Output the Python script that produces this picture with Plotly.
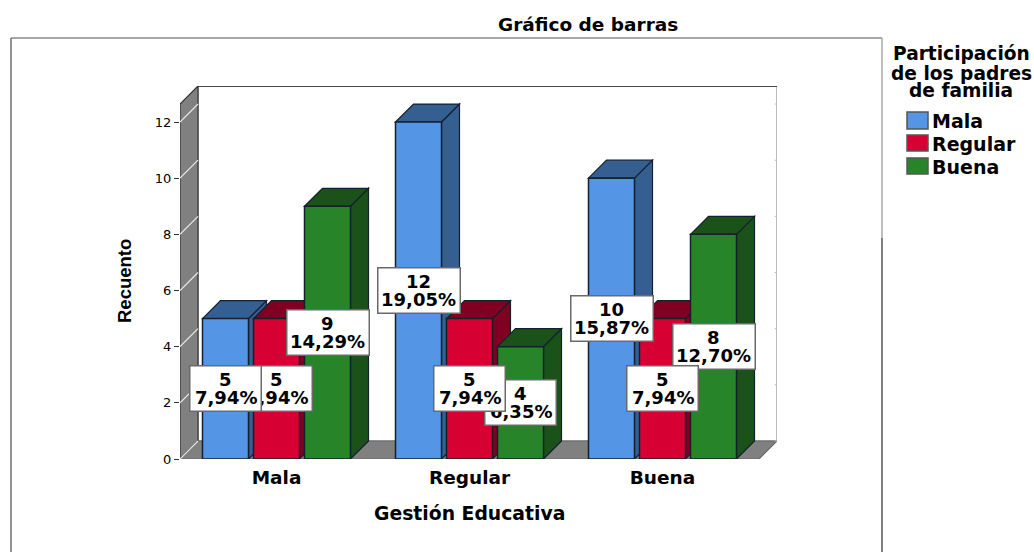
"""
3D style grouped bar chart (SPSS look) built from bars and depth shapes
"""

import plotly.graph_objects as go

WIDTH = 1034
HEIGHT = 552

categories = ["Mala", "Regular", "Buena"]
series_names = ["Mala", "Regular", "Buena"]
mala_counts = [5, 12, 10]
regular_counts = [5, 5, 5]
buena_counts = [9, 4, 8]
mala_pct = ["7,94%", "19,05%", "15,87%"]
regular_pct = ["7,94%", "7,94%", "7,94%"]
buena_pct = ["14,29%", "6,35%", "12,70%"]
y_ticks = [0, 2, 4, 6, 8, 10, 12]

counts = [mala_counts, regular_counts, buena_counts]
pcts = [mala_pct, regular_pct, buena_pct]
front_colors = ["#5595E6", "#D70033", "#288428"]
side_colors = ["#355F91", "#7F0020", "#1A521A"]
line_color = "#14202E"
wall_color = "#808080"

# pixel geometry of the plot box
left_px, right_px, top_px, bottom_px = 180, 777, 86, 459
group_px = 193
unit_px = 28.08
depth_px = 18
bar_px = 46
step_px = 51

depth_x = depth_px / group_px
depth_y = depth_px / unit_px
bar_w = bar_px / group_px
step = step_px / group_px
x_min = -0.5
x_max = 2.5 + depth_x
y_max = (bottom_px - top_px) / unit_px

main_font = "DejaVu Sans"
narrow_font = "Liberation Sans"


def poly(points, fill, line=line_color, width=1.2):
    path = "M " + " L ".join(f"{x:.4f},{y:.4f}" for x, y in points) + " Z"
    return dict(type="path", path=path, xref="x", yref="y", layer="below",
                fillcolor=fill, line=dict(color=line, width=width))


def px_line(x0, y0, x1, y1, color, width=1.5):
    return dict(type="line", xref="paper", yref="paper",
                x0=x0 / WIDTH, x1=x1 / WIDTH,
                y0=1 - y0 / HEIGHT, y1=1 - y1 / HEIGHT,
                line=dict(color=color, width=width))


def px_text(x, y, text, size=18, xanchor="center", family=main_font, angle=0):
    return dict(x=x / WIDTH, y=1 - y / HEIGHT, xref="paper", yref="paper",
                text=f"<b>{text}</b>", showarrow=False, xanchor=xanchor,
                yanchor="middle", textangle=angle,
                font=dict(family=family, size=size, color="#000"))


fig = go.Figure()
for name, vals, col in zip(series_names, counts, front_colors):
    fig.add_trace(go.Bar(x=categories, y=vals, name=name, marker=dict(
        color=col, line=dict(color=line_color, width=1.5))))

shapes = []

# back wall, left wall and floor
shapes.append(dict(type="rect", xref="x", yref="y", layer="below",
                   x0=x_min + depth_x, x1=x_max, y0=depth_y, y1=y_max,
                   fillcolor="white", line=dict(color="#BDBDBD", width=2)))
shapes.append(dict(type="line", xref="x", yref="y", layer="below",
                   x0=x_min + depth_x, x1=x_max, y0=y_max, y1=y_max,
                   line=dict(color="#222", width=1.5)))
shapes.append(poly([(x_min, 0), (x_min, y_max - depth_y),
                    (x_min + depth_x, y_max), (x_min + depth_x, depth_y)],
                   wall_color, "#333"))
shapes.append(poly([(x_min, 0), (x_min + depth_x, depth_y),
                    (x_max, depth_y), (x_max - depth_x, 0)],
                   wall_color, "#666"))
for t in y_ticks:
    shapes.append(dict(type="line", xref="x", yref="y", layer="below",
                       x0=x_min, x1=x_min + depth_x, y0=t, y1=t + depth_y,
                       line=dict(color="#E8E8E8", width=1.2)))
    shapes.append(dict(type="line", xref="x", yref="y", layer="below",
                       x0=x_max - 0.012, x1=x_max, y0=t + depth_y, y1=t + depth_y,
                       line=dict(color="#BDBDBD", width=1)))

# top and side faces, painted left to right so later bars hide earlier ones
for g in range(len(categories)):
    for s in range(len(series_names)):
        v = counts[s][g]
        x0 = g + (s - 1) * step - bar_w / 2
        x1 = x0 + bar_w
        shapes.append(poly([(x1, 0), (x1 + depth_x, depth_y),
                            (x1 + depth_x, v + depth_y), (x1, v)], side_colors[s]))
        shapes.append(poly([(x0, v), (x0 + depth_x, v + depth_y),
                            (x1 + depth_x, v + depth_y), (x1, v)], side_colors[s]))

# outer frame
shapes.append(px_line(11, 38, 882, 38, "#8A8A8A"))
shapes.append(px_line(11, 38, 11, 552, "#6E6E6E"))
shapes.append(px_line(882, 38, 882, 238, "#A8A8A8"))
shapes.append(px_line(882, 238, 882, 552, "#555555"))

# legend swatches
for s, (y0, y1) in enumerate([(112, 129), (135, 151), (158, 174)]):
    shapes.append(dict(type="rect", xref="paper", yref="paper",
                       x0=907 / WIDTH, x1=928 / WIDTH,
                       y0=1 - y1 / HEIGHT, y1=1 - y0 / HEIGHT,
                       fillcolor=front_colors[s], line=dict(color="#555", width=1.5)))

annotations = []

# value labels: green first, blue last, the later box covers the earlier one
for s in [2, 1, 0]:
    for g in range(len(categories)):
        x = g + (s - 1) * step
        y = counts[s][g] / 2
        pct = pcts[s][g]
        annotations.append(dict(
            x=x, y=y, xref="x", yref="y", text=" ", showarrow=False,
            width=70 if len(pct) == 5 else 81, height=44, borderpad=0,
            bgcolor="white", bordercolor="#6A6A6A", borderwidth=1.5))
        for line, shift in ((str(counts[s][g]), 9), (pct, -9)):
            annotations.append(dict(
                x=x, y=y, xref="x", yref="y", text=f"<b>{line}</b>", showarrow=False,
                yshift=shift, font=dict(family=main_font, size=18, color="#000")))

# titles and legend text
annotations.append(px_text(588, 25, "Gráfico de barras", 18.5))
annotations.append(px_text(469, 513, "Gestión Educativa", 18.8))
annotations.append(px_text(124, 281, "Recuento", 18.5, family=narrow_font, angle=-90))
annotations.append(px_text(961, 54, "Participación", 18.6))
annotations.append(px_text(961, 73, "de los padres", 18.6))
annotations.append(px_text(961, 91, "de familia", 18.6))
for name, y in zip(series_names, [121, 144, 167]):
    annotations.append(px_text(930, y, name, 19, "left"))

fig.update_layout(
    width=WIDTH,
    height=HEIGHT,
    margin=dict(l=0, r=0, t=0, b=0),
    paper_bgcolor="white",
    plot_bgcolor="white",
    barmode="group",
    bargap=1 - 3 * step,
    bargroupgap=1 - bar_px / step_px,
    showlegend=False,
    shapes=shapes,
    annotations=annotations,
    xaxis=dict(
        domain=[left_px / WIDTH, right_px / WIDTH],
        range=[x_min, x_max],
        type="category",
        categoryorder="array",
        categoryarray=categories,
        automargin=False,
        showgrid=False,
        ticks="",
        ticklabelstandoff=5,
        tickfont=dict(family=main_font, size=18.5, color="#000", weight="bold"),
    ),
    yaxis=dict(
        domain=[1 - bottom_px / HEIGHT, 1 - top_px / HEIGHT],
        range=[0, y_max],
        tickvals=y_ticks,
        automargin=False,
        showgrid=False,
        zeroline=False,
        ticks="outside",
        ticklen=5,
        tickcolor="#333",
        tickfont=dict(family=main_font, size=13, color="#000"),
    ),
)

fig.write_html("out.html", config={"displayModeBar": False},
               default_width="1034px", default_height="552px",
               post_script="document.body.style.margin='0';")
